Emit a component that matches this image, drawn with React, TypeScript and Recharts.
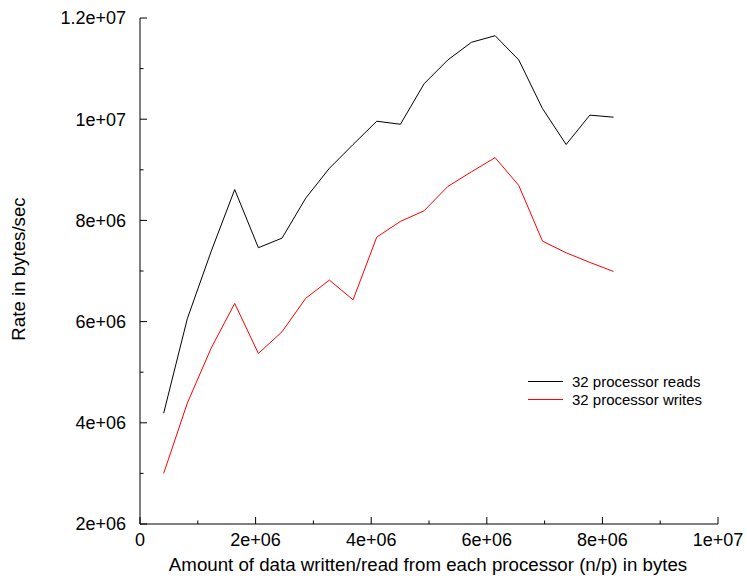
import { Label, Legend, Line, LineChart, XAxis, YAxis } from "recharts"

const FONT = '"Liberation Sans", Arial, Helvetica, sans-serif'

// bytes per processor (n/p)
const sizes = [
    409600, 819200, 1228800, 1638400, 2048000, 2457600, 2867200, 3276800, 3686400, 4096000,
    4505600, 4915200, 5324800, 5734400, 6144000, 6553600, 6963200, 7372800, 7782400, 8192000,
]
const reads = [
    4.19e6, 6.06e6, 7.38e6, 8.61e6, 7.46e6, 7.65e6, 8.44e6, 9.03e6, 9.5e6, 9.96e6,
    9.9e6, 10.7e6, 11.17e6, 11.52e6, 11.65e6, 11.17e6, 10.21e6, 9.5e6, 10.08e6, 10.04e6,
]
const writes = [
    3.0e6, 4.39e6, 5.47e6, 6.36e6, 5.37e6, 5.8e6, 6.46e6, 6.82e6, 6.43e6, 7.67e6,
    7.98e6, 8.19e6, 8.67e6, 8.96e6, 9.24e6, 8.69e6, 7.59e6, 7.36e6, 7.17e6, 6.99e6,
]

const xTicks = [0, 1e6, 2e6, 3e6, 4e6, 5e6, 6e6, 7e6, 8e6, 9e6, 1e7]
const xTickLabels = ["0", "", "2e+06", "", "4e+06", "", "6e+06", "", "8e+06", "", "1e+07"]
const yTicks = [2e6, 3e6, 4e6, 5e6, 6e6, 7e6, 8e6, 9e6, 1e7, 1.1e7, 1.2e7]
const yTickLabels = ["2e+06", "", "4e+06", "", "6e+06", "", "8e+06", "", "1e+07", "", "1.2e+07"]

const SERIES = [
    { key: "reads", name: "32 processor reads", color: "#000000" },
    { key: "writes", name: "32 processor writes", color: "#ff0000" },
]

const data = sizes.map((x, i) => ({ x, reads: reads[i], writes: writes[i] }))

function labelFor(value: number, ticks: number[], labels: string[]) {
    const i = ticks.findIndex((t) => Math.abs(t - value) < 1)
    return i >= 0 ? labels[i] : ""
}

function makeTick(side: "bottom" | "top" | "left" | "right") {
    return (props: any) => {
        const { x, y, payload } = props
        const isX = side === "bottom" || side === "top"
        const label = isX ? labelFor(payload.value, xTicks, xTickLabels) : labelFor(payload.value, yTicks, yTickLabels)
        const len = label ? 7 : 3.5
        let line
        if (side === "bottom") line = <line x1={x} y1={y} x2={x} y2={y - len} stroke="#000" />
        else if (side === "top") line = <line x1={x} y1={y} x2={x} y2={y + len} stroke="#000" />
        else if (side === "left") line = <line x1={x} y1={y} x2={x + len} y2={y} stroke="#000" />
        else line = <line x1={x} y1={y} x2={x - len} y2={y} stroke="#000" />
        return (
            <g>
                {line}
                {label && side === "bottom" && (
                    <text x={x} y={y + 21.7} textAnchor="middle" fill="#000" fontSize={18} fontFamily={FONT}>
                        {label}
                    </text>
                )}
                {label && side === "left" && (
                    <text x={x - 14} y={y + 6.4} textAnchor="end" fill="#000" fontSize={18} fontFamily={FONT}>
                        {label}
                    </text>
                )}
            </g>
        )
    }
}

function ChartLegend() {
    return (
        <div style={{ fontFamily: FONT, fontSize: 15, color: "#000" }}>
            {SERIES.map((s) => (
                <div key={s.key} style={{ display: "flex", alignItems: "center", height: 18.3 }}>
                    <span style={{ display: "inline-block", width: 35, borderTop: `1px solid ${s.color}`, marginRight: 9 }} />
                    <span style={{ whiteSpace: "nowrap" }}>{s.name}</span>
                </div>
            ))}
        </div>
    )
}

export default function App() {
    return (
        <div style={{ position: "absolute", left: 0, top: 0, background: "#fff" }}>
            <LineChart width={747} height={578} data={data} margin={{ top: 18, right: 29, left: 0, bottom: 0 }}>
                <XAxis
                    xAxisId="bottom"
                    dataKey="x"
                    type="number"
                    domain={[0, 1e7]}
                    ticks={xTicks}
                    interval={0}
                    height={54}
                    tickSize={0}
                    tickMargin={0}
                    tickLine={false}
                    axisLine={{ stroke: "#000" }}
                    tick={makeTick("bottom")}
                    allowDataOverflow
                >
                    <Label
                        content={({ viewBox }: any) => (
                            <text
                                x={viewBox.x + viewBox.width / 2 - 1}
                                y={viewBox.y + 47}
                                textAnchor="middle"
                                fontSize={18.7}
                                fontFamily={FONT}
                                fill="#000"
                            >
                                Amount of data written/read from each processor (n/p) in bytes
                            </text>
                        )}
                    />
                </XAxis>
                <XAxis
                    xAxisId="top"
                    orientation="top"
                    dataKey="x"
                    type="number"
                    domain={[0, 1e7]}
                    ticks={xTicks}
                    interval={0}
                    height={0}
                    tickSize={0}
                    tickMargin={0}
                    tickLine={false}
                    axisLine={{ stroke: "#000" }}
                    tick={makeTick("top")}
                    allowDataOverflow
                />
                <YAxis
                    yAxisId="left"
                    type="number"
                    domain={[2e6, 1.2e7]}
                    ticks={yTicks}
                    interval={0}
                    width={140}
                    tickSize={0}
                    tickMargin={0}
                    tickLine={false}
                    axisLine={{ stroke: "#000" }}
                    tick={makeTick("left")}
                    allowDataOverflow
                >
                    <Label
                        content={({ viewBox }: any) => {
                            const cx = viewBox.x + 25
                            const cy = viewBox.y + viewBox.height / 2 - 2
                            return (
                                <text
                                    x={cx}
                                    y={cy}
                                    transform={`rotate(-90, ${cx}, ${cy})`}
                                    textAnchor="middle"
                                    fontSize={18.7}
                                    fontFamily={FONT}
                                    fill="#000"
                                >
                                    Rate in bytes/sec
                                </text>
                            )
                        }}
                    />
                </YAxis>
                <YAxis
                    yAxisId="right"
                    orientation="right"
                    type="number"
                    domain={[2e6, 1.2e7]}
                    ticks={yTicks}
                    interval={0}
                    width={0}
                    tickSize={0}
                    tickMargin={0}
                    tickLine={false}
                    axisLine={{ stroke: "#000" }}
                    tick={makeTick("right")}
                    allowDataOverflow
                />
                <Legend
                    layout="horizontal"
                    verticalAlign="middle"
                    align="center"
                    content={() => <ChartLegend />}
                    wrapperStyle={{ position: "absolute", left: 528, top: 372.5, width: "auto" }}
                />
                {SERIES.map((s) => (
                    <Line
                        key={s.key}
                        xAxisId="bottom"
                        yAxisId="left"
                        type="linear"
                        dataKey={s.key}
                        name={s.name}
                        stroke={s.color}
                        strokeWidth={1}
                        dot={false}
                        activeDot={false}
                        isAnimationActive={false}
                    />
                ))}
            </LineChart>
        </div>
    )
}
